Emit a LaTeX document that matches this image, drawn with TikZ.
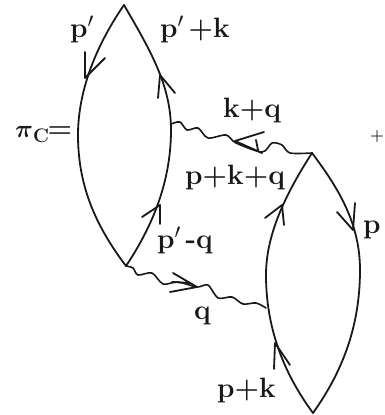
\documentclass[tikz,border=0pt]{standalone}
\usepackage{amsmath}
\tikzset{
  x=1pt,y=-1pt,
  ink/.style={draw=black!90,line width=1.8pt,line cap=round,line join=round},
  wav/.style={draw=black!90,line width=1.6pt,line cap=round,line join=round},
  lab/.style={inner sep=0pt,font=\fontsize{28}{28}\selectfont\bfseries,text=black!90},
  vtx/.style={inner sep=0pt,minimum size=0pt}
}
\begin{document}
\begin{tikzpicture}
\useasboundingbox (0,0) rectangle (385,415);
\coordinate (A) at (124,5);
\coordinate (B) at (126,266);
\coordinate (C) at (312,153);
\coordinate (D) at (313,413);
\coordinate (Ua) at (171,124);
\coordinate (Lb) at (266,308);
% loops
\draw[ink] (A) .. controls (93,50) and (78,95) .. (78,135) .. controls (78,185) and (95,225) .. (B);
\draw[ink] (B) .. controls (150,230) and (171,185) .. (171,130) .. controls (171,85) and (150,50) .. (A);
\draw[ink] (C) .. controls (285,195) and (266,235) .. (266,275) .. controls (266,330) and (285,375) .. (D);
\draw[ink] (D) .. controls (340,375) and (360,330) .. (360,270) .. controls (360,225) and (340,190) .. (C);
% wavy
\draw[wav] plot[smooth,tension=0.5] coordinates {(Ua) (180,122) (187,130) (198,128) (208,138) (226,135) (236,143) (262,152) (272,143) (282,145) (290,153) (C)};
\draw[wav] plot[smooth,tension=0.5] coordinates {(B) (133,268) (138,275) (152,273) (163,284) (178,282) (197,287) (208,285) (218,298) (232,297) (243,304) (256,303) (Lb)};
% arrowheads
\draw[ink] (85,52) -- (85,78) -- (105,58);
\draw[ink] (158,98) -- (160,75) -- (175,93);
\draw[ink] (142,217) -- (160,205) -- (160,224);
\draw[ink] (265,218) -- (282,205) -- (284,225);
\draw[ink] (337,212) -- (353,230) -- (355,203);
\draw[ink] (274,369) -- (275,343) -- (290,365);
\draw[ink] (264,132) -- (235,141) -- (262,153) (256,140) -- (258,150);
\draw[ink] (173,273) -- (197,287) -- (170,292) (172,282) -- (190,283);
% labels
\node[lab,anchor=base west] (l1) at (70,37) {p$'$};
\node[lab,anchor=base west] (l2) at (160,37) {p$'$\,+k};
\node[lab,anchor=base west] (l3) at (223,117) {k+q};
\node[lab,anchor=base west] (l4) at (185,184) {p+k+q};
\node[lab,anchor=base west] (l5) at (157,248) {p$'$\,-q};
\node[lab,anchor=base west] (l6) at (194,319) {q};
\node[lab,anchor=base west] (l7) at (217,397) {p+k};
\node[lab,anchor=base west] (l8) at (363,233) {p};
\node[lab,anchor=base west,font=\fontsize{16}{16}\selectfont\bfseries] (l9) at (370,140) {+};
\node[lab,anchor=base west] (l10) at (15,137) {$\boldsymbol{\pi}_{\text{C}}$\kern-2pt=};
\end{tikzpicture}
\end{document}
